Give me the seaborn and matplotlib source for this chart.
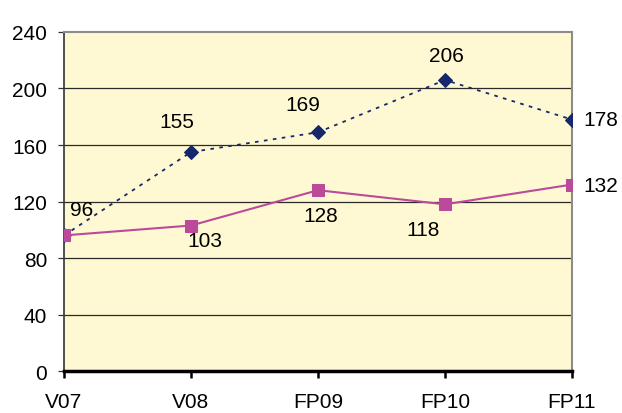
import matplotlib
matplotlib.use("Agg")
import matplotlib.pyplot as plt
import seaborn as sns
import pandas as pd

periods = ["V07", "V08", "FP09", "FP10", "FP11"]
series_a = [96, 155, 169, 206, 178]
series_b = [96, 103, 128, 118, 132]
y_ticks = [0, 40, 80, 120, 160, 200, 240]

sns.set_style("white")
plt.rcParams["font.family"] = ["Liberation Sans", "DejaVu Sans"]
plt.rcParams["text.color"] = "black"

df = pd.DataFrame({"x": range(len(periods)), "a": series_a, "b": series_b})

fig = plt.figure(figsize=(6.22, 4.14), dpi=100)
ax = fig.add_axes([0.1029, 0.1014, 0.8167, 0.8189])
ax.set_facecolor("#FEF9D3")

navy = "#16286B"
pink = "#BC4A9B"
fs = 15

for y in y_ticks[1:-1]:
    ax.axhline(y, color="#2b2b2b", lw=0.9, zorder=1)

sns.lineplot(data=df, x="x", y="a", ax=ax, color=navy, lw=1.3,
             linestyle=(0, (2, 3)), marker="D", markersize=7,
             markeredgecolor=navy, zorder=3)
sns.lineplot(data=df, x="x", y="b", ax=ax, color=pink, lw=1.5,
             marker="s", markersize=8.5, markeredgecolor=pink, zorder=4)

ax.set_xlim(0, len(periods) - 1)
ax.set_ylim(0, 240)
ax.set_xticks(range(len(periods)))
ax.set_xticklabels(periods)
ax.set_yticks(y_ticks)
ax.set_xlabel("")
ax.set_ylabel("")
ax.tick_params(axis="y", left=True, length=4, width=0.9, direction="out",
               pad=8, labelsize=fs, labelcolor="black", color="#333333")
ax.tick_params(axis="x", bottom=True, length=5, width=1.8, direction="out",
               pad=10, labelsize=fs, labelcolor="black", color="black")

for side in ["top", "right"]:
    ax.spines[side].set_color("#8c8c8c")
    ax.spines[side].set_linewidth(1.5)
ax.spines["left"].set_color("#333333")
ax.spines["left"].set_linewidth(1.2)
ax.spines["bottom"].set_color("black")
ax.spines["bottom"].set_linewidth(2.5)

# value labels for the upper series
a_offsets = [(13, 19), (-10, 22), (-11, 20), (1, 18), (21, 0)]
for i, (v, off) in enumerate(zip(series_a, a_offsets)):
    ax.annotate(str(v), (i, v), xytext=off, textcoords="offset points",
                ha="center", va="center", fontsize=fs, color="black",
                clip_on=False)

# value labels for the lower series (first point shares the same label)
b_offsets = [None, (10, -11), (2, -18), (-16, -18), (21, -1)]
for i, (v, off) in enumerate(zip(series_b, b_offsets)):
    if off is None:
        continue
    ax.annotate(str(v), (i, v), xytext=off, textcoords="offset points",
                ha="center", va="center", fontsize=fs, color="black",
                clip_on=False)

fig.savefig("out.png", dpi=100)
